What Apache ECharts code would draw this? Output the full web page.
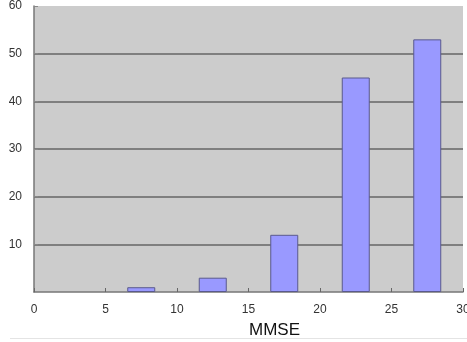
<!DOCTYPE html>
<html><head><meta charset="utf-8">
<script src="https://cdn.jsdelivr.net/npm/echarts@6/dist/echarts.min.js"></script>
<style>html,body{margin:0;padding:0;background:#fff}#c{width:467px;height:342px}</style>
</head><body><div id="c"></div>
<script>
var binCenters = [7.5, 12.5, 17.5, 22.5, 27.5];
var counts = [1, 3, 12, 45, 53];
var xTitle = 'MMSE';

var chart = echarts.init(document.getElementById('c'), null, {renderer: 'canvas'});
chart.setOption({
  animation: false,
  backgroundColor: '#ffffff',
  grid: {left: 34, right: 4, top: 6, bottom: 50, show: true, backgroundColor: '#cccccc', borderWidth: 0,
         containLabel: false, outerBoundsMode: 'none'},
  xAxis: {
    type: 'value', min: 0, max: 30, interval: 5,
    name: xTitle, nameLocation: 'middle', nameGap: 30,
    nameTextStyle: {fontFamily: 'Liberation Sans', fontSize: 17, color: '#111', padding: [0, 0, 0, 52]},
    axisLine: {show: true, lineStyle: {color: '#777', width: 1.5}},
    axisTick: {show: true, inside: true, length: 4, lineStyle: {color: '#666'}},
    axisLabel: {fontFamily: 'Liberation Sans', fontSize: 12, color: '#333', margin: 12},
    splitLine: {show: false}
  },
  yAxis: {
    type: 'value', min: 0, max: 60, interval: 10,
    axisLine: {show: true, lineStyle: {color: '#777', width: 1.5}},
    axisTick: {show: true, inside: true, length: 4, lineStyle: {color: '#888'}},
    axisLabel: {fontFamily: 'Liberation Sans', fontSize: 12, color: '#333', margin: 12, showMinLabel: false},
    splitLine: {show: true, showMinLine: false, showMaxLine: false, lineStyle: {color: '#666', width: 1.5}}
  },
  graphic: [{type: 'line', shape: {x1: 10, y1: 338.5, x2: 467, y2: 338.5}, style: {stroke: '#e4e4e4', lineWidth: 1}}],
  series: [{
    type: 'bar',
    data: binCenters.map(function (c, i) { return [c, counts[i]]; }),
    barWidth: 28,
    itemStyle: {color: '#9999ff', borderColor: '#5a5a8c', borderWidth: 1}
  }]
});
</script></body></html>
